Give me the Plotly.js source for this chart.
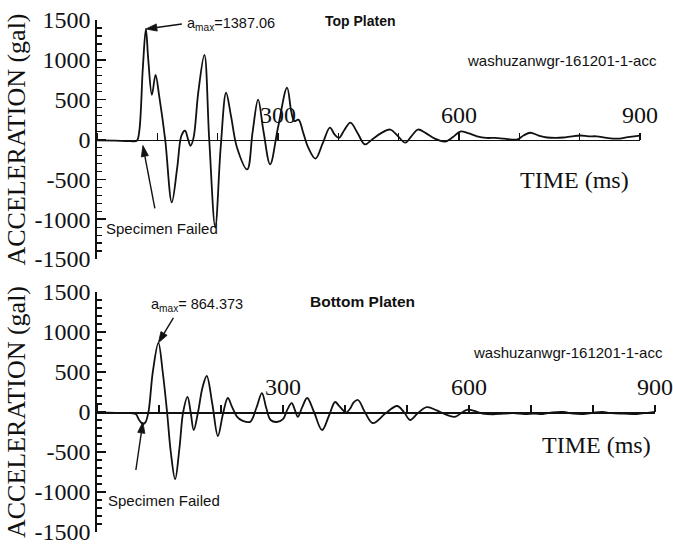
<!DOCTYPE html>
<html>
<head>
<meta charset="utf-8">
<script src="https://cdn.plot.ly/plotly-3.0.1.min.js"></script>
<style>html,body{margin:0;padding:0;background:#fff;}#chart{width:673px;height:544px;}</style>
</head>
<body>
<div id="chart"></div>
<script>
// Top platen acceleration record (time in ms, acceleration in gal)
const tTop = [0,30,55,66,70,76,81,85,91,97,103,113,124,133,140,146,151,155,160,168,178,186,196,205,214,222,232,249,258,267,276,287,300,315,322,327,334,342,350,362,374,386,394,401,410,420,432,444,456,471,486,499,511,521,532,545,560,577,590,602,615,630,645,660,675,696,707,718,732,746,760,773,787,801,815,828,845,862,880,900];
const aTop = [-10,-15,-20,-15,100,900,1387.06,1000,560,812,550,0,-790,-350,50,110,0,-80,20,600,1062,0,-1100,-100,587,300,-100,-375,100,500,100,-312,150,650,350,230,250,80,-100,-240,-50,150,60,20,120,212,80,-62,0,80,125,40,-40,40,125,80,10,-25,30,100,80,40,20,20,10,0,50,85,50,25,20,25,40,50,40,40,20,10,30,50];

// Bottom platen acceleration record
const tBot = [0,30,55,63,68,74,78,83,90,99,106,113,119,126,133,139,146,151,156,163,170,177,186,195,203,211,218,226,235,247,257,266,273,280,290,300,307,314,319,324,331,339,350,363,374,384,390,397,401,408,414,421,432,445,465,484,495,505,518,532,548,562,577,590,598,610,622,639,655,671,690,705,719,735,752,768,784,800,815,830,850,871,888,900];
const aBot = [-10,-10,-15,-30,-100,-150,-130,0,500,864.373,500,0,-500,-840,-450,0,190,0,-225,0,300,450,100,-300,-30,175,60,-60,-110,-123,50,237,50,-100,-125,-90,30,110,30,-60,60,175,0,-225,-50,125,80,20,-10,40,120,150,0,-140,-20,75,0,-100,-10,60,20,-30,-60,0,30,10,-20,-30,-20,-15,-25,-20,-25,-5,0,-20,-25,-10,0,-15,-20,-25,-10,0];

const yTickVals = [-1500,-1000,-500,0,500,1000,1500];
const yTickText = ['-1500','-1000','-500','0','500','1000','1500'];
const xTickVals = [300,600,900];
const xTickText = ['300','600','900'];

// failure instants (ms, gal) pointed at by the "Specimen Failed" arrows
const failTop = [76, -75];
const failBot = [74, -125];

const topTitle = 'Top Platen';
const botTitle = 'Bottom Platen';
const recordName = 'washuzanwgr-161201-1-acc';
const yTitle = 'ACCELERATION (gal)';
const xTitle = 'TIME (ms)';
const failText = 'Specimen Failed';

function peakIndex(arr){ let k=0; for(let i=1;i<arr.length;i++){ if(arr[i]>arr[k]) k=i; } return k; }
const pTop = peakIndex(aTop), pBot = peakIndex(aBot);

const W = 673, H = 544;
const serif = 'Liberation Serif, Times New Roman, serif';
const sans = 'Liberation Sans, Arial, sans-serif';

const lineStyle = {color:'#111', width:1.8, shape:'spline', smoothing:1};

const traces = [
  {x:tTop, y:aTop, type:'scatter', mode:'lines', line:lineStyle, xaxis:'x', yaxis:'y', hoverinfo:'skip'},
  {x:tBot, y:aBot, type:'scatter', mode:'lines', line:lineStyle, xaxis:'x2', yaxis:'y2', hoverinfo:'skip'}
];

function xAx(d0, d1, pos){
  return {domain:[d0/W, d1/W], range:[0,900], anchor:'free', position:pos, side:'top',
    showline:true, linecolor:'#111', linewidth:1.6, ticks:'outside', ticklen:7, tickwidth:1.4, tickcolor:'#111',
    tickmode:'array', tickvals:xTickVals, ticktext:xTickText, ticklabeloverflow:'allow',
    minor:{tickmode:'linear', tick0:100, dtick:100, ticks:'outside', ticklen:7, tickwidth:1.2, tickcolor:'#111', showgrid:false},
    tickfont:{family:serif, size:24, color:'#111'}, showgrid:false, zeroline:false, fixedrange:true};
}
function yAx(anchor, py1, py0){
  return {anchor:anchor, domain:[1-py0/H, 1-py1/H], range:[-1500,1500],
    showline:true, linecolor:'#111', linewidth:1.6, ticks:'inside', ticklen:9, tickwidth:1.4, tickcolor:'#111',
    tickmode:'array', tickvals:yTickVals, ticktext:yTickText, ticklabeloverflow:'allow',
    minor:{tickmode:'linear', tick0:-1500, dtick:100, ticks:'inside', ticklen:5, tickwidth:1.2, tickcolor:'#111', showgrid:false},
    tickfont:{family:serif, size:24, color:'#111'}, showgrid:false, zeroline:false, fixedrange:true,
    title:{text:yTitle, font:{family:serif, size:26, color:'#111'}, standoff:1}};
}

const topY0 = 259, topY1 = 20, botY0 = 532, botY1 = 292;

// arrow drawn as pixel-sized shapes anchored at a data point (dx, dy: tail offset in screen px, dy downward)
function arrow(xref, yref, x, y, dx, dy){
  const len = Math.hypot(dx, dy), ux = dx/len, uy = -dy/len;
  const L = 11, w = 3.6;
  const bx = ux*L, by = uy*L, nx = -uy, ny = ux;
  const f = v => v.toFixed(2);
  const base = {xref:xref, yref:yref, xsizemode:'pixel', ysizemode:'pixel', xanchor:x, yanchor:y, type:'path'};
  return [
    Object.assign({}, base, {path:`M ${f(bx)},${f(by)} L ${f(dx)},${f(-dy)}`, line:{color:'#111', width:1.4}}),
    Object.assign({}, base, {path:`M 0,0 L ${f(bx+nx*w)},${f(by+ny*w)} L ${f(bx-nx*w)},${f(by-ny*w)} Z`,
      line:{color:'#111', width:0.8}, fillcolor:'#111'})
  ];
}

const shapes = [].concat(
  arrow('x', 'y', tTop[pTop], aTop[pTop], 36, -5),
  arrow('x', 'y', failTop[0], failTop[1], 12, 63),
  arrow('x2', 'y2', tBot[pBot], aBot[pBot], 15, -25),
  arrow('x2', 'y2', failBot[0], failBot[1], -7, 48)
);

const txt = (s, px, py, size, bold) => ({text: bold ? '<b>'+s+'</b>' : s, xref:'paper', yref:'paper', x:px/W, y:1-py/H,
  showarrow:false, xanchor:'center', yanchor:'middle', font:{family:sans, size:size, color:'#111'}});
const serifTxt = (s, px, py) => ({text:s, xref:'paper', yref:'paper', x:px/W, y:1-py/H, showarrow:false,
  xanchor:'center', yanchor:'middle', font:{family:serif, size:24, color:'#111'}});

const annotations = [
  txt(topTitle, 360, 21, 14, true),
  txt(recordName, 562, 60, 15, false),
  serifTxt(xTitle, 574, 180),
  txt('a<sub>max</sub>=' + aTop[pTop].toFixed(2), 231, 24, 14.5, false),
  txt(failText, 162, 228, 15, false),
  txt(botTitle, 362, 301, 15.5, true),
  txt(recordName, 568, 352, 15, false),
  serifTxt(xTitle, 596, 445),
  txt('a<sub>max</sub>= ' + aBot[pBot].toFixed(3), 197, 305, 14.5, false),
  txt(failText, 164, 500, 15, false)
];

const layout = {
  width:W, height:H, margin:{l:0,r:0,t:0,b:0}, paper_bgcolor:'#fff', plot_bgcolor:'rgba(0,0,0,0)',
  showlegend:false,
  xaxis: xAx(97, 640, 1-139.5/H),
  yaxis: yAx('x', topY1, topY0),
  xaxis2: xAx(97, 655, 1-412/H),
  yaxis2: yAx('x2', botY1, botY0),
  annotations: annotations,
  shapes: shapes
};

Plotly.newPlot('chart', traces, layout, {displayModeBar:false, staticPlot:true});
</script>
</body>
</html>
